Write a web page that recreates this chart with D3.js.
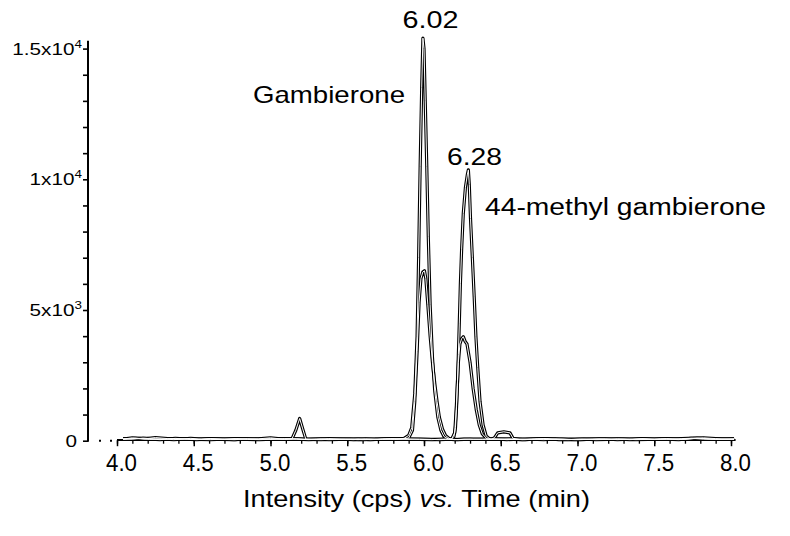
<!DOCTYPE html>
<html><head><meta charset="utf-8">
<script src="https://cdn.jsdelivr.net/npm/d3@7"></script>
<style>body{margin:0;background:#fff}svg{display:block}</style>
</head><body>
<svg id="chart" width="790" height="536"></svg>
<script>
// ---- data (time in min, intensity in cps) ----
const gambieroneQuant = [[4.04,60],[4.10,110],[4.18,70],[4.25,120],[4.33,80],[4.40,50],[4.48,90],[4.55,60],[4.62,70],[4.70,50],[4.78,80],[4.85,60],[4.92,70],[5.00,110],[5.08,60],[5.15,70],[5.22,50],[5.30,60],[5.38,40],[5.45,50],[5.52,60],[5.60,40],[5.68,50],[5.75,70],[5.82,60],[5.87,90],[5.90,200],[5.92,500],[5.94,1800],[5.955,4000],[5.965,7000],[5.975,10500],[5.985,13500],[5.993,15400],[6.000,15000],[6.008,13000],[6.018,10500],[6.028,7800],[6.04,5200],[6.055,3200],[6.07,1900],[6.09,900],[6.11,400],[6.13,160],[6.16,60],[6.20,40],[6.26,60],[6.32,50],[6.40,60],[6.48,50],[6.56,70],[6.64,40],[6.72,60],[6.80,80],[6.88,40],[6.96,50],[7.04,60],[7.12,40],[7.20,50],[7.28,60],[7.36,50],[7.44,70],[7.52,50],[7.60,60],[7.68,80],[7.76,100],[7.84,70],[7.92,50],[8.02,60]];
const gambieroneQual = [[4.04,50],[4.12,90],[4.20,70],[4.28,40],[4.36,80],[4.44,60],[4.52,40],[4.60,70],[4.68,50],[4.76,40],[4.84,70],[4.92,50],[5.00,80],[5.08,60],[5.14,70],[5.165,400],[5.19,850],[5.21,450],[5.23,60],[5.30,50],[5.38,80],[5.46,60],[5.54,40],[5.62,70],[5.70,50],[5.78,80],[5.85,70],[5.90,100],[5.925,400],[5.94,1500],[5.955,3400],[5.968,5300],[5.98,6200],[5.992,6450],[6.003,6500],[6.012,6200],[6.025,5200],[6.04,4000],[6.055,3000],[6.07,2200],[6.085,1500],[6.10,900],[6.12,450],[6.14,200],[6.17,60],[6.22,40],[6.30,60],[6.38,50],[6.46,70],[6.54,40],[6.62,60],[6.70,50],[6.78,80],[6.86,50],[6.94,40],[7.02,60],[7.10,50],[7.18,70],[7.26,40],[7.34,60],[7.42,80],[7.50,50],[7.58,60],[7.66,40],[7.74,90],[7.82,60],[7.90,50],[8.02,70]];
const methylQuant = [[4.04,80],[4.10,60],[4.17,100],[4.24,70],[4.31,50],[4.38,90],[4.46,60],[4.53,50],[4.61,80],[4.69,60],[4.77,40],[4.85,70],[4.93,60],[5.01,50],[5.09,80],[5.17,60],[5.25,40],[5.33,70],[5.41,50],[5.49,60],[5.57,40],[5.65,60],[5.73,50],[5.81,70],[5.89,50],[5.97,60],[6.05,50],[6.10,40],[6.14,50],[6.18,70],[6.195,160],[6.205,500],[6.212,1300],[6.218,2200],[6.224,3300],[6.23,4500],[6.237,6000],[6.245,7300],[6.256,8700],[6.27,9700],[6.283,10200],[6.289,10360],[6.295,9800],[6.303,8500],[6.315,7000],[6.327,5500],[6.338,4000],[6.35,2800],[6.365,1500],[6.385,600],[6.405,180],[6.43,60],[6.50,60],[6.58,50],[6.66,40],[6.74,70],[6.82,50],[6.90,60],[6.98,40],[7.06,50],[7.14,70],[7.22,50],[7.30,60],[7.38,40],[7.46,50],[7.54,70],[7.62,60],[7.70,50],[7.78,100],[7.86,70],[7.94,50],[8.02,60]];
const methylQual = [[4.04,60],[4.13,80],[4.21,50],[4.29,70],[4.37,40],[4.45,70],[4.53,50],[4.61,40],[4.69,60],[4.77,80],[4.85,50],[4.93,40],[5.01,60],[5.09,50],[5.17,70],[5.25,50],[5.33,40],[5.41,60],[5.49,50],[5.57,70],[5.65,40],[5.73,60],[5.81,50],[5.89,70],[5.97,50],[6.05,40],[6.12,60],[6.18,60],[6.20,300],[6.21,1200],[6.217,2100],[6.224,3000],[6.234,3700],[6.245,3900],[6.256,3980],[6.268,3800],[6.28,3700],[6.30,3000],[6.32,2000],[6.34,1200],[6.36,600],[6.38,260],[6.41,70],[6.44,50],[6.46,120],[6.48,300],[6.52,340],[6.56,300],[6.58,90],[6.62,50],[6.70,60],[6.78,40],[6.86,70],[6.94,50],[7.02,40],[7.10,60],[7.18,50],[7.26,70],[7.34,40],[7.42,60],[7.50,50],[7.58,80],[7.66,50],[7.74,70],[7.82,110],[7.90,80],[8.02,50]];

const xMajorTicks = [4.0,4.5,5.0,5.5,6.0,6.5,7.0,7.5,8.0];
const xTickLabels = ["4.0","4.5","5.0","5.5","6.0","6.5","7.0","7.5","8.0"];
const xMinorTicks = d3.range(40,81).map(d => d/10);
const yMajorTicks = [0,5000,10000,15000];
const yTickMantissa = ["0","5x10","1x10","1.5x10"];
const yTickExponent = ["","3","4","4"];
const yMinorTicks = d3.range(0,16).map(d => d*1000);
const peakTimes = ["6.02","6.28"];
const compoundNames = ["Gambierone","44-methyl gambierone"];
const axisTitle = ["Intensity (cps) ","vs."," Time (min)"];

// ---- drawing ----
const svg = d3.select("#chart");
svg.append("rect").attr("width",790).attr("height",536).attr("fill","#fff");
const x = d3.scaleLinear().domain([4,8]).range([117,731]);
const y = d3.scaleLinear().domain([0,15000]).range([440.7,48.6]);
const font = "'Liberation Sans', Arial, sans-serif";

// y axis
svg.append("line").attr("x1",88).attr("x2",88).attr("y1",y(0)+1).attr("y2",y(15300))
  .attr("stroke","#000").attr("stroke-width",2);
const yAx = svg.append("g").attr("transform","translate(88,0)")
  .call(d3.axisLeft(y).tickValues(yMinorTicks).tickSize(5).tickFormat(""));
yAx.select(".domain").remove();
yAx.selectAll(".tick line").attr("stroke","#000").attr("stroke-width",1.6);

yMajorTicks.forEach((v,i) => {
  const g = svg.append("g").attr("transform",`translate(${i===0?77:82},${y(v)+6}) scale(1.22,1)`);
  const t = g.append("text").attr("text-anchor","end").attr("font-family",font)
    .attr("font-size",17).attr("fill","#000");
  t.append("tspan").text(yTickMantissa[i]);
  if (yTickExponent[i]) t.append("tspan").attr("dy",-7).attr("font-size",11).text(yTickExponent[i]);
});

// dotted link between y axis and x axis start
svg.append("line").attr("x1",99).attr("x2",113).attr("y1",y(0)).attr("y2",y(0))
  .attr("stroke","#000").attr("stroke-width",2).attr("stroke-dasharray","2,9");

// x axis
svg.append("line").attr("x1",x(4)).attr("x2",x(8.03)).attr("y1",y(0)-0.7).attr("y2",y(0)-0.7)
  .attr("stroke","#000").attr("stroke-width",2);
const xMin = svg.append("g").attr("transform",`translate(0,${y(0)-0.5})`)
  .call(d3.axisBottom(x).tickValues(xMinorTicks).tickSize(3.5).tickFormat(""));
xMin.select(".domain").remove();
xMin.selectAll(".tick line").attr("stroke","#000").attr("stroke-width",1.3);
const xMaj = svg.append("g").attr("transform",`translate(0,${y(0)-0.5})`)
  .call(d3.axisBottom(x).tickValues(xMajorTicks).tickSize(6).tickFormat(""));
xMaj.select(".domain").remove();
xMaj.selectAll(".tick line").attr("stroke","#000").attr("stroke-width",1.5);
xMajorTicks.forEach((v,i) => {
  svg.append("text").attr("x",x(v)+4.5).attr("y",471).attr("text-anchor","middle")
    .attr("font-family",font).attr("font-size",24).attr("fill","#000")
    .attr("textLength",31).attr("lengthAdjust","spacingAndGlyphs").text(xTickLabels[i]);
});

// traces (outlined strokes, as in the reference)
const series = [gambieroneQuant, gambieroneQual, methylQuant, methylQual];
const line = d3.line().x(d => x(d[0])).y(d => y(d[1]));
const tg = svg.append("g");
series.forEach(s => tg.append("path").attr("d",line(s)).attr("fill","none")
  .attr("stroke","#000").attr("stroke-width",3.2).attr("stroke-linejoin","round"));
series.forEach(s => tg.append("path").attr("d",line(s)).attr("fill","none")
  .attr("stroke","#fff").attr("stroke-width",1.0).attr("stroke-linejoin","round"));

// annotations
function label(txt, xx, yy, anchor, len, size) {
  svg.append("text").attr("x",xx).attr("y",yy).attr("text-anchor",anchor)
    .attr("font-family",font).attr("font-size",size).attr("fill","#000")
    .attr("textLength",len).attr("lengthAdjust","spacingAndGlyphs").text(txt);
}
label(peakTimes[0], 430.5, 28, "middle", 56, 23);
label(compoundNames[0], 253, 103, "start", 152, 24);
label(peakTimes[1], 447, 165, "start", 55, 23);
label(compoundNames[1], 485, 215, "start", 281, 23);

// axis title
const tt = svg.append("text").attr("x",243).attr("y",507).attr("font-family",font)
  .attr("font-size",24).attr("fill","#000")
  .attr("textLength",347).attr("lengthAdjust","spacingAndGlyphs");
tt.append("tspan").text(axisTitle[0]);
tt.append("tspan").attr("font-style","italic").text(axisTitle[1]);
tt.append("tspan").text(axisTitle[2]);
</script>
</body></html>
